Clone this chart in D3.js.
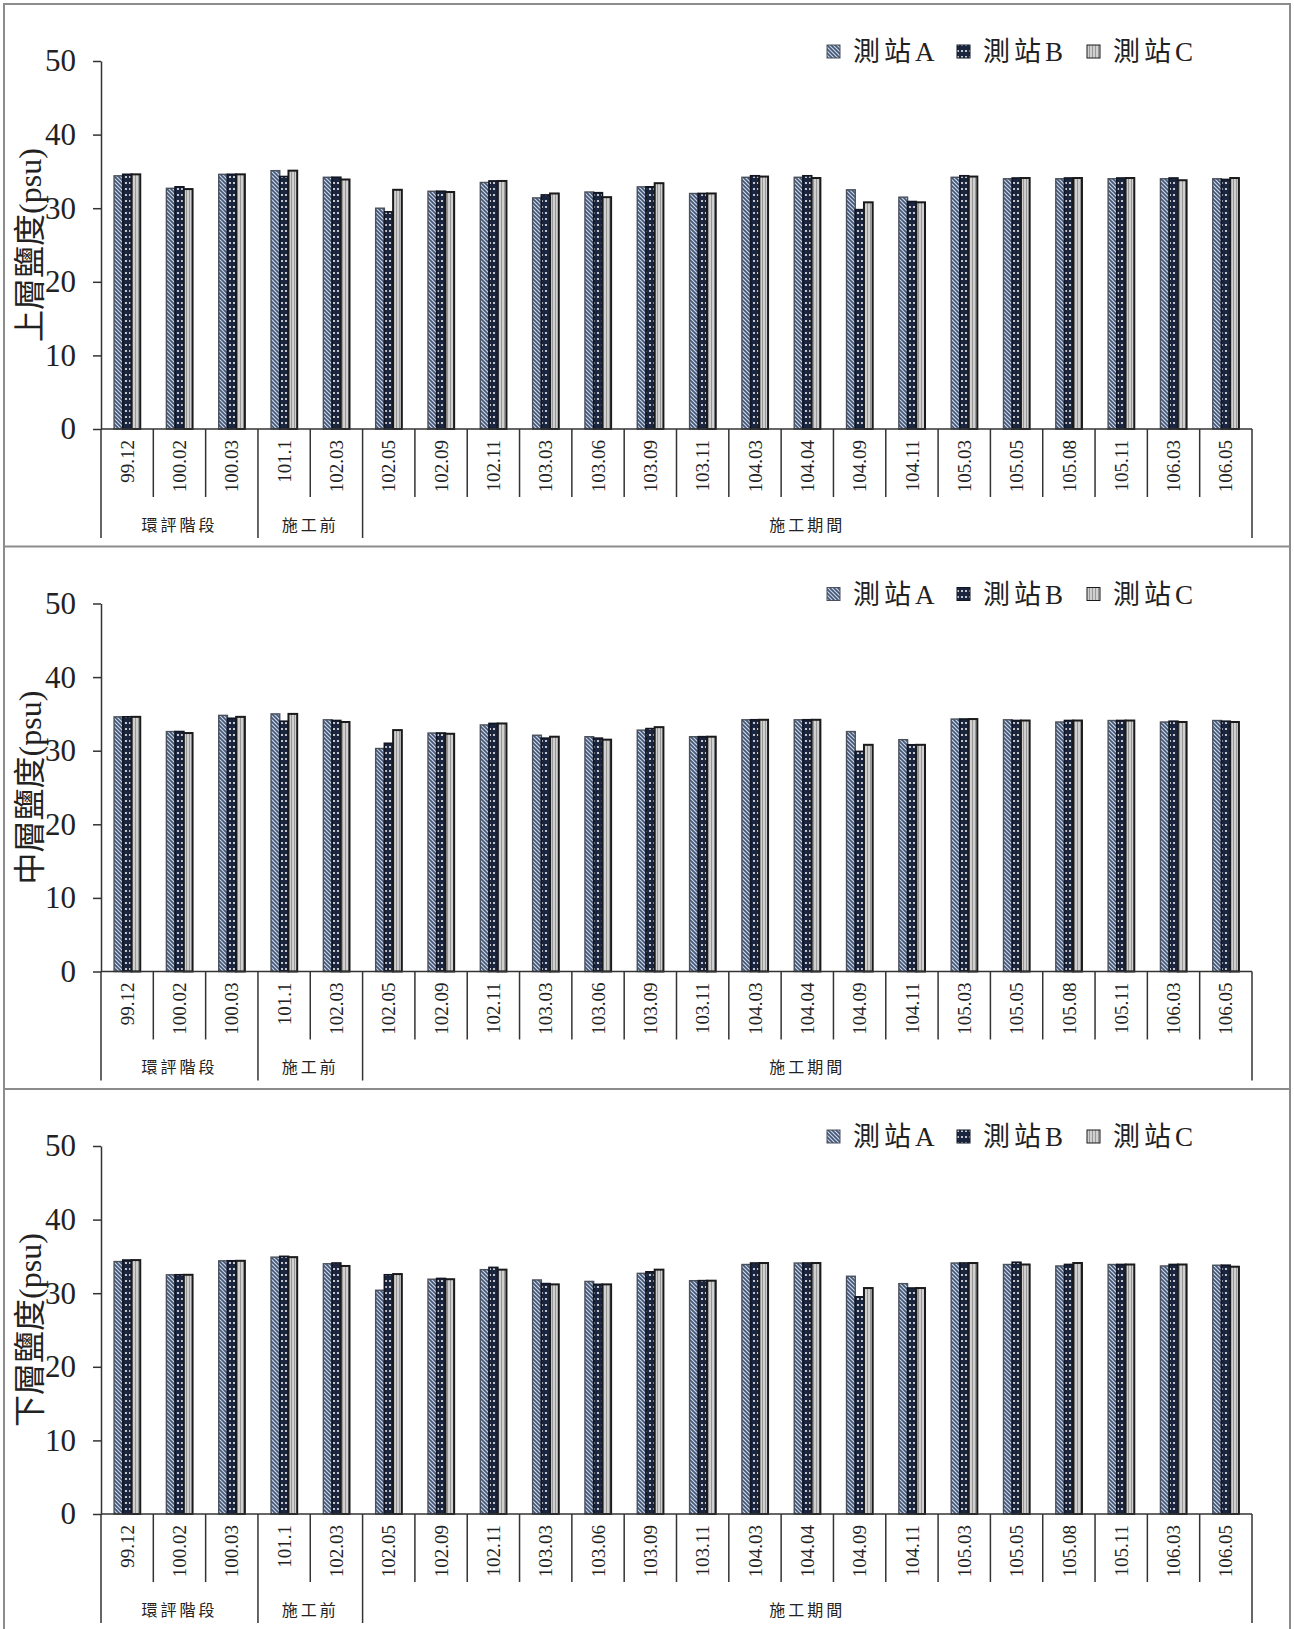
<!DOCTYPE html>
<html><head><meta charset="utf-8">
<script src="https://cdn.jsdelivr.net/npm/d3@7"></script>
<style>body{margin:0;background:#fff}svg{display:block}</style>
</head><body><svg id="c" width="1294" height="1629"></svg>
<script>
const categories = ["99.12","100.02","100.03","101.1","102.03","102.05","102.09","102.11","103.03","103.06","103.09","103.11","104.03","104.04","104.09","104.11","105.03","105.05","105.08","105.11","106.03","106.05"];
const stations = ["測站A","測站B","測站C"];
const upperA = [34.4,32.7,34.6,35.1,34.2,30.0,32.3,33.5,31.4,32.2,32.9,32.0,34.2,34.2,32.5,31.5,34.2,34.0,34.0,34.0,34.0,34.0];
const upperB = [34.6,32.9,34.6,34.3,34.2,29.5,32.3,33.7,31.8,32.1,32.9,32.0,34.4,34.4,29.8,30.9,34.4,34.1,34.1,34.1,34.1,33.9];
const upperC = [34.6,32.6,34.6,35.1,33.9,32.5,32.2,33.7,32.0,31.5,33.4,32.0,34.3,34.1,30.8,30.8,34.3,34.1,34.1,34.1,33.8,34.1];
const middleA = [34.6,32.6,34.8,35.0,34.2,30.3,32.4,33.5,32.1,31.9,32.8,31.9,34.2,34.2,32.6,31.5,34.3,34.2,33.9,34.1,33.9,34.1];
const middleB = [34.6,32.6,34.4,34.0,34.1,31.0,32.4,33.7,31.7,31.7,33.0,31.9,34.2,34.2,29.9,30.8,34.3,34.1,34.1,34.1,34.0,34.0];
const middleC = [34.6,32.4,34.6,35.0,33.9,32.8,32.3,33.7,31.9,31.5,33.2,31.9,34.2,34.2,30.8,30.8,34.3,34.1,34.1,34.1,33.9,33.9];
const lowerA = [34.3,32.5,34.4,34.9,34.0,30.4,31.9,33.2,31.8,31.6,32.7,31.7,33.9,34.1,32.3,31.3,34.1,33.9,33.7,33.9,33.7,33.8];
const lowerB = [34.5,32.5,34.4,35.0,34.1,32.5,32.0,33.5,31.3,31.2,32.9,31.7,34.1,34.1,29.5,30.7,34.1,34.2,33.9,33.9,33.9,33.8];
const lowerC = [34.5,32.5,34.4,34.9,33.7,32.6,31.9,33.2,31.2,31.2,33.2,31.7,34.1,34.1,30.7,30.7,34.1,33.9,34.1,33.9,33.9,33.6];
const yTicks = [0,10,20,30,40,50];
const groupLabels = ["環評階段","施工前","施工期間"];
const groupSpans = [3,2,17];
const panelTitles = ["上層鹽度(psu)","中層鹽度(psu)","下層鹽度(psu)"];

const panels = [
  {title: panelTitles[0], series: [upperA, upperB, upperC]},
  {title: panelTitles[1], series: [middleA, middleB, middleC]},
  {title: panelTitles[2], series: [lowerA, lowerB, lowerC]}
];

const SERIF = "'Liberation Serif','Times New Roman','Noto Sans CJK TC',serif";
const CJK = "'Noto Sans CJK TC','Noto Sans CJK SC',sans-serif";
const svg = d3.select("#c");
svg.append("rect").attr("width",1294).attr("height",1629).attr("fill","#fff");

const defs = svg.append("defs");
const pA = defs.append("pattern").attr("id","patA").attr("patternUnits","userSpaceOnUse").attr("width",4).attr("height",4);
pA.append("rect").attr("width",4).attr("height",4).attr("fill","#445673");
pA.append("path").attr("d","M0,0 L4,4 M-1,3 L1,5 M3,-1 L5,1").attr("stroke","#cdd8ec").attr("stroke-width",1.2);
const pB = defs.append("pattern").attr("id","patB").attr("patternUnits","userSpaceOnUse").attr("width",4).attr("height",6);
pB.append("rect").attr("width",4).attr("height",6).attr("fill","#1a2540");
pB.append("circle").attr("cx",2).attr("cy",3).attr("r",1.1).attr("fill","#eeeeee");
const pC = defs.append("pattern").attr("id","patC").attr("patternUnits","userSpaceOnUse").attr("width",3).attr("height",3);
pC.append("rect").attr("width",3).attr("height",3).attr("fill","#d0d0d0");
pC.append("line").attr("x1",0.5).attr("x2",0.5).attr("y1",0).attr("y2",3).attr("stroke","#808080").attr("stroke-width",0.7);

const fills = ["url(#patA)","url(#patB)","url(#patC)"];
const strokes = ["#4a505c","#111622","#1a1a1a"];
const strokeW = [1.4,1.7,2];

const x = d3.scaleBand().domain(categories).range([101,1252]).paddingInner(0.5).paddingOuter(0.25);
const xs = d3.scaleBand().domain([0,1,2]).range([0, x.bandwidth()]);

svg.append("rect").attr("x",4).attr("y",4).attr("width",1286).attr("height",1650)
  .attr("fill","none").attr("stroke","#8c8c8c").attr("stroke-width",2);

panels.forEach((p, pi) => {
  const top = 4 + pi * 542.5;
  const g = svg.append("g");
  if (pi > 0) {
    g.append("line").attr("x1",4).attr("x2",1290).attr("y1",top).attr("y2",top)
      .attr("stroke","#8c8c8c").attr("stroke-width",2);
  }
  const y = d3.scaleLinear().domain([0,50]).range([top + 425, top + 57]);
  const y0 = y(0);

  p.series.forEach((vals, si) => {
    g.append("g").selectAll("rect").data(vals).join("rect")
      .attr("x", (d,i) => x(categories[i]) + xs(si))
      .attr("y", d => y(d))
      .attr("width", xs.bandwidth())
      .attr("height", d => y0 - y(d))
      .attr("fill", fills[si])
      .attr("stroke", strokes[si])
      .attr("stroke-width", strokeW[si]);
  });

  const ya = g.append("g").attr("transform","translate(101,0)")
    .call(d3.axisLeft(y).tickValues(yTicks).tickSize(8).tickSizeOuter(0).tickPadding(17));
  ya.select(".domain").attr("stroke","#333").attr("stroke-width",1.5);
  ya.selectAll(".tick line").attr("stroke","#333").attr("stroke-width",1.5);
  ya.selectAll(".tick text").attr("font-family",SERIF).attr("font-size",31).attr("fill","#222");

  g.append("line").attr("x1",101).attr("x2",1252).attr("y1",y0).attr("y2",y0)
    .attr("stroke","#333").attr("stroke-width",1.5);

  const groupBounds = [0];
  groupSpans.forEach(s => groupBounds.push(groupBounds[groupBounds.length-1] + s));
  for (let i = 0; i <= categories.length; i++) {
    const c = categories[Math.min(i, categories.length-1)];
    const bx = i < categories.length ? x(c) + x.bandwidth()/2 - x.step()/2 : x(c) + x.bandwidth()/2 + x.step()/2;
    const long = groupBounds.includes(i);
    g.append("line").attr("x1",bx).attr("x2",bx).attr("y1",y0).attr("y2", top + (long ? 534 : 493))
      .attr("stroke","#333").attr("stroke-width",1.5);
  }

  g.append("g").selectAll("text").data(categories).join("text")
    .attr("transform", d => `translate(${x(d) + x.bandwidth()/2},${y0 + 11}) rotate(-90)`)
    .attr("text-anchor","end").attr("dy","0.35em")
    .attr("font-family",SERIF).attr("font-size",19).attr("fill","#222")
    .text(d => d);

  groupLabels.forEach((lab, gi) => {
    const c0 = categories[groupBounds[gi]], c1 = categories[groupBounds[gi+1]-1];
    const xa = x(c0) + x.bandwidth()/2 - x.step()/2;
    const xb = x(c1) + x.bandwidth()/2 + x.step()/2;
    g.append("text").attr("x",(xa+xb)/2).attr("y", top + 521).attr("dy","0.35em")
      .attr("text-anchor","middle").attr("font-family",CJK).attr("font-size",16)
      .attr("letter-spacing",3).attr("fill","#222").text(lab);
  });

  g.append("text").attr("transform",`translate(30,${top + 241}) rotate(-90)`)
    .attr("text-anchor","middle").attr("dy","0.35em")
    .attr("font-family",SERIF).attr("font-size",32).attr("fill","#222").text(p.title);

  stations.forEach((s, si) => {
    const lx = 827 + si * 130;
    g.append("rect").attr("x",lx).attr("y",top + 41).attr("width",13).attr("height",13)
      .attr("fill",fills[si]).attr("stroke",strokes[si]).attr("stroke-width",1);
    g.append("text").attr("x",lx + 26).attr("y",top + 48).attr("dy","0.35em")
      .attr("font-family",SERIF).attr("font-size",27).attr("letter-spacing",4)
      .attr("fill","#222").text(s);
  });
});
</script></body></html>
